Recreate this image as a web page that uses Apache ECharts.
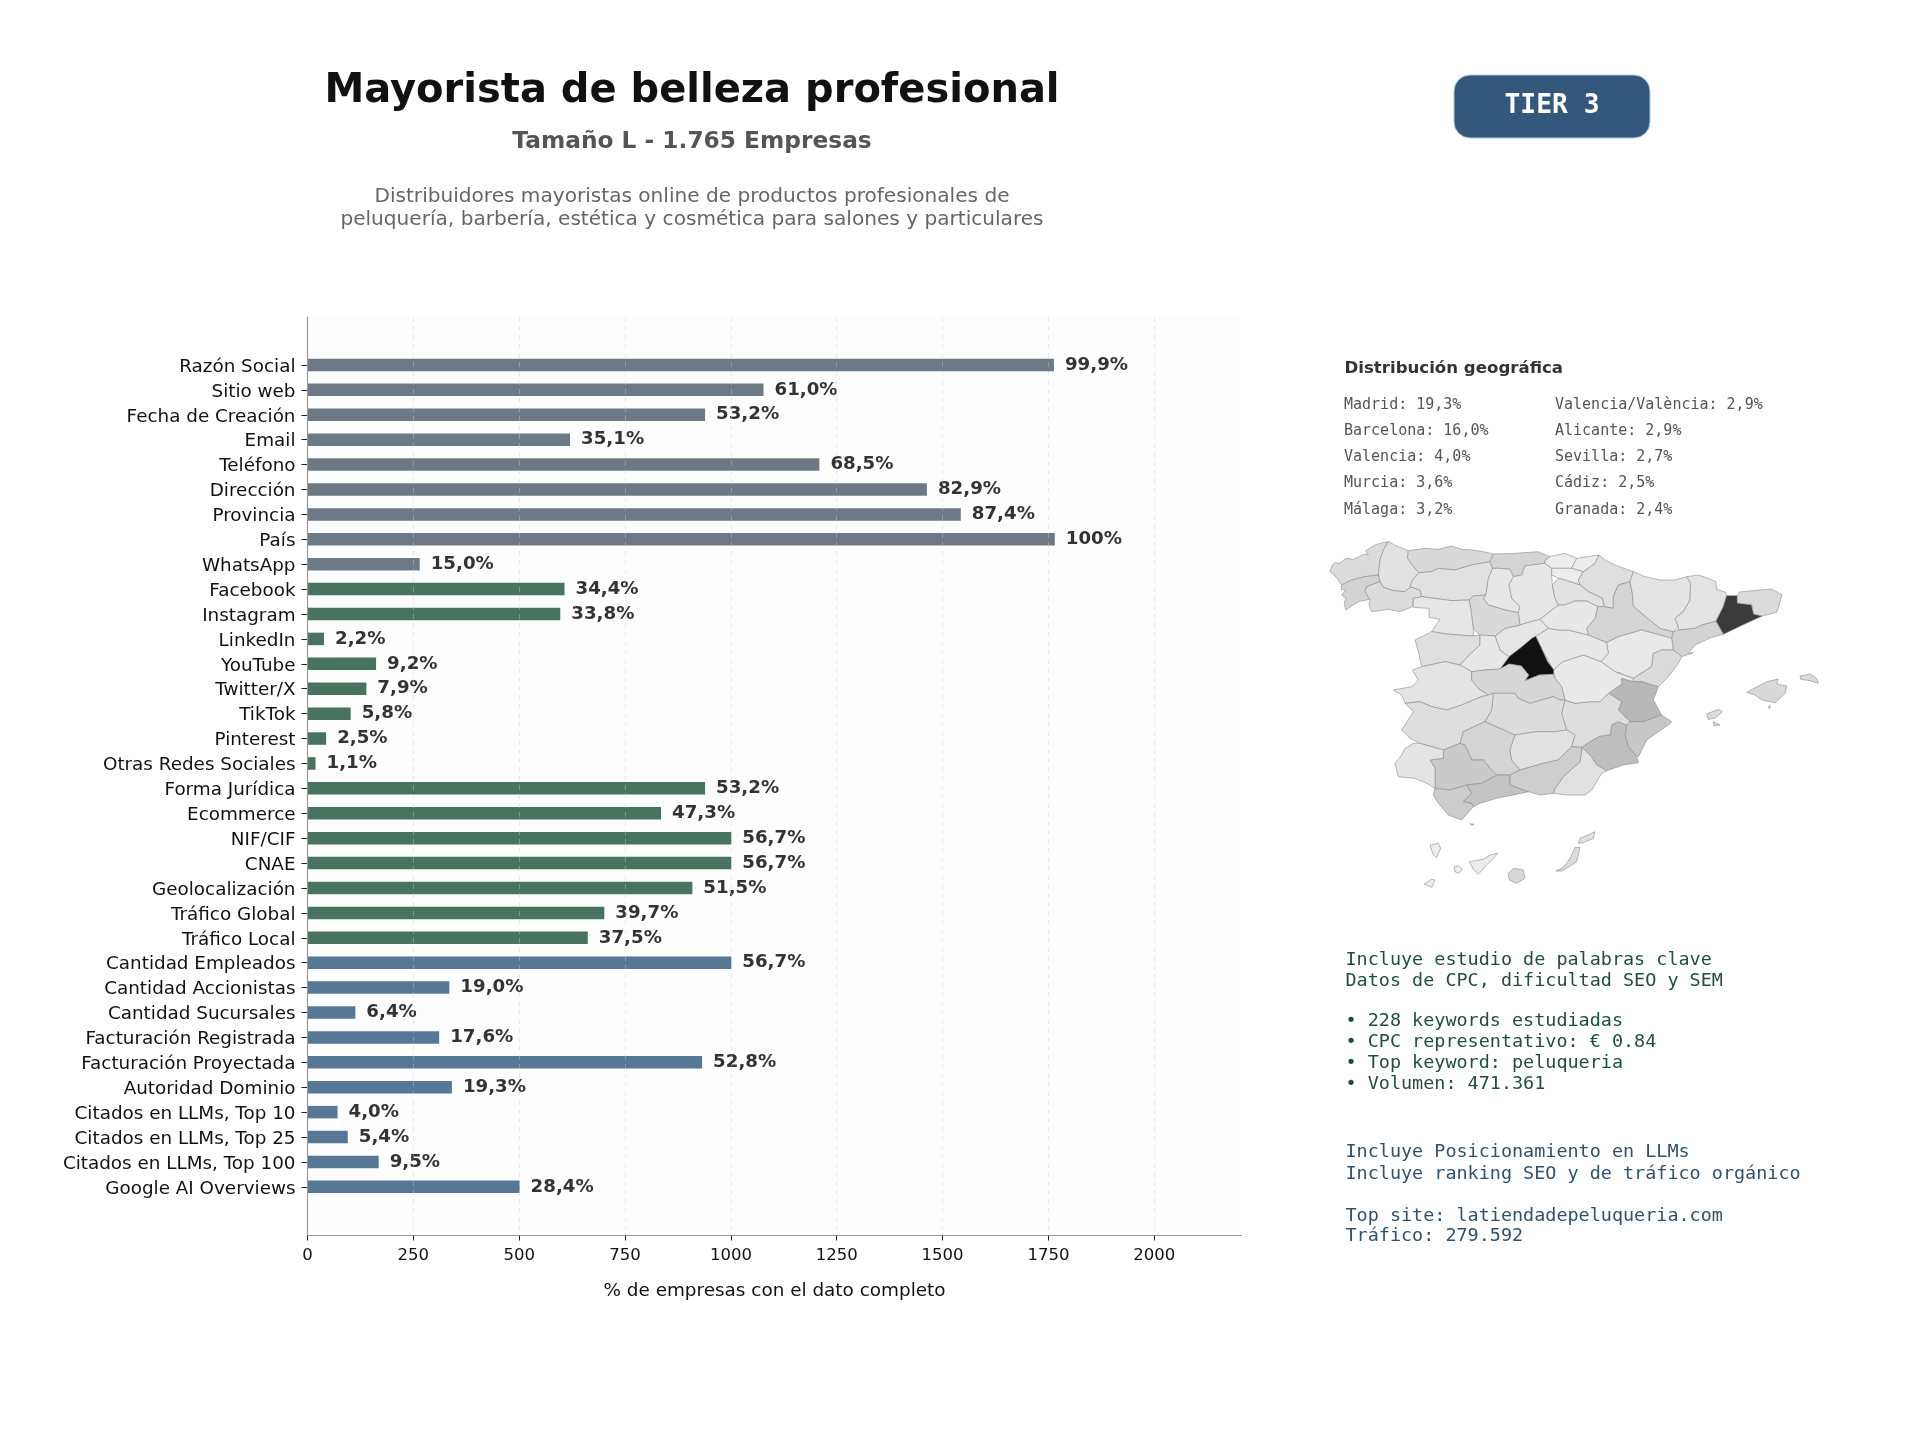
<!DOCTYPE html>
<html>
<head>
<meta charset="utf-8">
<title>Mayorista de belleza profesional</title>
<script src="https://cdn.jsdelivr.net/npm/echarts@6/dist/echarts.min.js"></script>
<style>
html, body { margin: 0; padding: 0; background: #fff; }
#chart { width: 1920px; height: 1440px; }
</style>
</head>
<body>
<div id="chart"></div>
<script>
const categories = ['Razón Social', 'Sitio web', 'Fecha de Creación', 'Email', 'Teléfono', 'Dirección', 'Provincia', 'País', 'WhatsApp',
    'Facebook', 'Instagram', 'LinkedIn', 'YouTube', 'Twitter/X', 'TikTok', 'Pinterest', 'Otras Redes Sociales',
    'Forma Jurídica', 'Ecommerce', 'NIF/CIF', 'CNAE', 'Geolocalización', 'Tráfico Global', 'Tráfico Local',
    'Cantidad Empleados', 'Cantidad Accionistas', 'Cantidad Sucursales', 'Facturación Registrada', 'Facturación Proyectada',
    'Autoridad Dominio', 'Citados en LLMs, Top 10', 'Citados en LLMs, Top 25', 'Citados en LLMs, Top 100', 'Google AI Overviews'];
const companies = [1763, 1077, 939, 620, 1209, 1463, 1543, 1765, 265,
    607, 597, 39, 162, 139, 102, 44, 19,
    939, 835, 1001, 1001, 909, 701, 662,
    1001, 335, 113, 311, 932,
    341, 71, 95, 168, 501];
const percentLabels = ['99,9%', '61,0%', '53,2%', '35,1%', '68,5%', '82,9%', '87,4%', '100%', '15,0%',
    '34,4%', '33,8%', '2,2%', '9,2%', '7,9%', '5,8%', '2,5%', '1,1%',
    '53,2%', '47,3%', '56,7%', '56,7%', '51,5%', '39,7%', '37,5%',
    '56,7%', '19,0%', '6,4%', '17,6%', '52,8%',
    '19,3%', '4,0%', '5,4%', '9,5%', '28,4%'];
const groupSizes = [9, 15, 10];
const groupColors = ['#6d7a86', '#48735f', '#567795'];
const xTicks = [0, 250, 500, 750, 1000, 1250, 1500, 1750, 2000];
const xMax = 2206;

const geoLeft = ['Madrid: 19,3%', 'Barcelona: 16,0%', 'Valencia: 4,0%', 'Murcia: 3,6%', 'Málaga: 3,2%'];
const geoRight = ['Valencia/València: 2,9%', 'Alicante: 2,9%', 'Sevilla: 2,7%', 'Cádiz: 2,5%', 'Granada: 2,4%'];
const keywordLines = ['Incluye estudio de palabras clave', 'Datos de CPC, dificultad SEO y SEM', '• 228 keywords estudiadas',
    '• CPC representativo: € 0.84', '• Top keyword: peluqueria', '• Volumen: 471.361'];
const rankingLines = ['Incluye Posicionamiento en LLMs', 'Incluye ranking SEO y de tráfico orgánico',
    'Top site: latiendadepeluqueria.com', 'Tráfico: 279.592'];

const provinceValues = {
    'Madrid': 19.3, 'Barcelona': 16.0, 'Valencia': 4.0, 'Ademuz': 4.0, 'Murcia': 3.6, 'Málaga': 3.2, 'Alicante': 2.9, 'Sevilla': 2.7, 'Cádiz': 2.5, 'Granada': 2.4,
    'A Coruña': 1.5, 'Lugo': 1.0, 'Pontevedra': 2.0, 'Ourense': 1.4, 'Asturias': 1.6, 'León': 1.1, 'Cantabria': 1.9, 'Palencia': 0.7, 'Burgos': 0.7,
    'Bizkaia': 0.3, 'Gipuzkoa': 0.3, 'Álava': 0.4, 'Navarra': 1.2, 'La Rioja': 1.0, 'Huesca': 0.9, 'Zaragoza': 1.9, 'Lleida': 0.9, 'Girona': 1.5,
    'Tarragona': 2.0, 'Teruel': 0.6, 'Castellón': 1.5, 'Soria': 0.7, 'Segovia': 0.8, 'Valladolid': 1.6, 'Zamora': 0.8, 'Salamanca': 1.2, 'Ávila': 0.7,
    'Cáceres': 0.9, 'Toledo': 1.8, 'Cuenca': 0.6, 'Guadalajara': 0.7, 'Ciudad Real': 1.4, 'Badajoz': 1.3, 'Córdoba': 1.9, 'Jaén': 1.1, 'Huelva': 0.9,
    'Albacete': 1.3, 'Almería': 1.1, 'Mallorca': 1.7, 'Menorca': 1.5, 'Ibiza': 1.5, 'Formentera': 1.5, 'Cabrera': 1.5, 'Tenerife': 0.4, 'Gran Canaria': 1.7,
    'Lanzarote': 1.2, 'Fuerteventura': 1.4, 'La Palma': 0.4, 'La Gomera': 0.3, 'El Hierro': 0.3, 'Ceuta': 1.5
};

// province outlines traced by hand, flat x,y lists (3 units = 1 screen px)
const provinceShapes = {
    'A Coruña': [18,115,22,105,30,98,45,100,62,85,85,88,118,72,130,75,122,62,150,45,165,40,190,35,175,60,165,90,160,135,120,140,80,150,50,165,40,150,28,135,15,125],
    'Lugo': [190,35,215,48,250,62,248,85,262,105,282,128,262,150,255,172,240,185,205,182,175,172,165,155,160,135,165,90,175,60],
    'Pontevedra': [50,165,80,150,120,140,160,135,165,155,125,170,120,185,135,208,100,215,62,240,58,220,62,205,50,195,62,180,48,178],
    'Ourense': [125,170,165,155,175,172,205,182,240,185,255,172,262,172,285,180,290,200,265,205,262,230,225,245,190,238,140,245,132,225,135,208,120,185],
    'Asturias': [250,62,300,55,340,58,380,48,410,58,440,60,475,65,505,72,495,95,440,105,390,120,340,115,320,125,282,128,262,105,248,85],
    'León': [282,128,320,125,340,115,390,120,440,105,495,95,503,115,490,145,483,195,445,198,432,210,380,212,290,200,285,180,262,172,255,172,262,150],
    'Cantabria': [505,72,570,70,640,65,675,80,660,92,660,100,600,108,590,135,565,140,555,118,520,115,503,115,495,95],
    'Palencia': [503,115,520,115,555,118,565,140,552,165,560,205,585,230,580,248,540,240,490,225,475,205,483,195,490,145],
    'Burgos': [565,140,590,135,600,108,660,100,680,115,680,135,682,165,690,205,700,225,645,268,600,280,585,285,580,248,585,230,560,205,552,165],
    'Bizkaia': [675,80,720,70,755,85,740,115,700,115,680,115,660,100,660,92],
    'Gipuzkoa': [755,85,822,75,810,100,775,125,740,115],
    'Álava': [680,115,700,115,740,115,775,125,760,150,765,165,720,150,700,145,680,135],
    'Navarra': [775,125,810,100,822,75,840,90,870,105,925,125,915,155,880,165,865,200,865,235,838,230,832,205,790,185,765,165,760,150],
    'La Rioja': [682,165,700,145,720,150,765,165,790,185,832,205,838,230,818,230,785,213,750,213,720,225,700,225,690,205],
    'Zaragoza': [818,230,838,230,865,235,865,200,880,165,915,155,922,190,925,228,960,258,1005,295,1045,305,1040,325,950,300,880,320,845,338,790,315,785,295,810,265],
    'Huesca': [925,125,960,140,1005,150,1050,150,1085,140,1097,160,1095,210,1075,245,1050,265,1060,290,1045,305,1005,295,960,258,925,228,922,190,915,155],
    'Lleida': [1085,140,1120,135,1150,145,1172,155,1175,178,1200,186,1205,197,1195,230,1173,274,1130,285,1110,295,1060,300,1060,290,1050,265,1075,245,1095,210,1097,160],
    'Barcelona': [1205,197,1237,197,1237,219,1280,224,1286,252,1312,258,1253,285,1195,313,1173,274,1195,230],
    'Girona': [1237,197,1243,186,1339,177,1371,194,1361,230,1355,247,1312,258,1286,252,1280,224,1237,219],
    'Tarragona': [1045,305,1060,300,1110,295,1130,285,1173,274,1195,313,1160,322,1110,345,1090,370,1105,368,1070,380,1045,360,1040,325],
    'Teruel': [845,338,880,320,950,300,1040,325,1045,360,1010,360,985,370,980,410,925,445,870,425,828,395,850,370],
    'Castellón': [925,445,980,410,985,370,1010,360,1045,360,1070,380,1060,400,1030,440,1000,470,980,465,950,455,925,455],
    'Valencia': [850,490,890,462,890,445,925,455,950,455,980,465,1000,470,985,510,1010,555,955,575,915,575,880,540,890,515],
    'Ademuz': [865,430,885,428,900,442,880,445],
    'Alicante': [915,575,955,575,1010,555,1040,575,1030,585,965,630,940,680,930,675,910,650,900,615,905,585],
    'Murcia': [770,652,795,635,825,618,855,615,860,585,880,575,905,585,900,615,910,650,935,680,940,698,895,705,845,722,815,705,800,680],
    'Almería': [770,652,800,680,815,705,845,722,830,730,800,780,780,795,725,795,685,790,690,775,715,740,765,695,770,660],
    'Albacete': [720,510,750,520,795,515,825,515,850,490,890,515,880,540,915,575,905,585,880,575,860,585,855,615,825,618,795,635,770,652,740,650,750,615,725,600,710,550],
    'Cuenca': [685,420,713,395,775,375,828,395,870,425,925,445,925,455,890,445,890,462,850,490,825,515,795,515,750,520,720,510,710,470,690,445],
    'Guadalajara': [632,319,670,295,700,300,730,300,790,315,845,338,850,370,828,395,775,375,713,395,685,420,648,352],
    'Soria': [645,268,700,225,720,225,750,213,785,213,818,230,810,265,785,295,790,315,730,300,700,300,670,295],
    'Segovia': [510,318,540,295,585,285,600,280,645,268,670,295,632,319,621,325,589,352,552,380,525,360],
    'Madrid': [632,319,648,352,668,395,686,419,686,433,643,435,600,452,611,435,589,408,552,402,525,417,552,380,589,352,621,325],
    'Valladolid': [445,198,483,195,475,205,490,225,540,240,580,248,585,285,540,295,510,318,465,315,445,298,438,240,432,210],
    'Zamora': [290,200,380,212,432,210,438,240,445,298,445,318,400,315,365,312,320,305,345,268,312,262,312,235,265,232,265,205],
    'Salamanca': [270,330,320,305,365,312,400,315,445,318,465,315,465,345,430,378,405,405,360,395,290,410,280,365],
    'Ávila': [465,315,510,318,525,360,552,380,525,417,480,420,440,425,405,405,430,378,465,345],
    'Cáceres': [262,420,290,410,360,395,405,405,440,425,440,450,460,475,490,495,470,500,445,510,410,525,365,540,320,530,285,515,240,520,230,495,205,480,260,470,280,450],
    'Toledo': [440,425,480,420,525,417,552,402,589,408,611,435,600,452,643,435,686,433,690,445,710,470,720,510,705,510,685,500,615,520,580,505,570,490,505,490,490,495,460,475,440,450],
    'Ciudad Real': [505,490,570,490,580,505,615,520,685,500,705,510,720,510,710,550,725,600,690,605,635,605,570,615,480,575,500,540],
    'Badajoz': [285,515,320,530,365,540,410,525,445,510,470,500,490,495,505,490,500,540,480,575,415,605,405,640,355,660,285,640,255,625,230,600,265,545,240,520],
    'Córdoba': [415,605,480,575,570,615,555,660,560,690,585,720,555,735,515,735,495,715,475,690,440,690,420,645,405,640],
    'Jaén': [570,615,635,605,690,605,725,600,750,615,740,650,700,690,655,700,585,720,560,690,555,660],
    'Sevilla': [315,690,355,685,355,660,405,640,420,645,440,690,475,690,495,715,515,735,470,760,425,765,375,780,330,775,330,715],
    'Huelva': [240,655,265,640,285,640,355,660,355,685,315,690,330,715,330,775,305,760,270,745,220,740,210,700,230,675],
    'Cádiz': [330,775,375,780,425,765,440,790,415,815,440,820,445,830,410,870,370,855,340,820,325,795],
    'Málaga': [425,765,470,760,515,735,555,735,555,765,610,785,565,795,515,805,465,820,445,830,440,820,415,815,440,790],
    'Granada': [555,735,585,720,655,700,700,690,740,650,770,652,770,660,765,695,715,740,690,775,685,790,645,795,610,785,555,765],
    'Mallorca': [1265,487,1325,455,1360,447,1355,462,1385,468,1380,490,1350,518,1310,510,1290,495],
    'Menorca': [1425,438,1455,432,1475,445,1480,460,1455,452,1427,448],
    'Ibiza': [1145,552,1180,538,1192,545,1170,565,1150,568],
    'Formentera': [1165,575,1175,580,1185,585,1167,587],
    'Cabrera': [1330,530,1337,528,1333,536],
    'La Palma': [315,945,340,940,347,955,335,983,325,975],
    'La Gomera': [387,1012,400,1008,413,1018,400,1030,390,1025],
    'El Hierro': [297,1062,320,1048,330,1050,320,1072,305,1065],
    'Tenerife': [433,995,475,988,495,975,518,970,510,980,485,1005,460,1033,445,1018],
    'Gran Canaria': [565,1015,595,1020,600,1045,575,1060,553,1050,550,1030],
    'Fuerteventura': [750,952,765,952,755,995,725,1015,710,1023,693,1023,715,1012,725,1000,740,975],
    'Lanzarote': [765,925,800,910,810,905,805,925,775,938,760,940],
    'Ceuta': [435,881,447,883,440,886]
};

function ringOf(flat) {
    const ring = [];
    for (let i = 0; i < flat.length; i += 2) ring.push([flat[i], -flat[i + 1]]);
    ring.push(ring[0]);
    return ring;
}

const spainGeo = {
    type: 'FeatureCollection',
    features: Object.keys(provinceShapes).map((name) => ({
        type: 'Feature',
        properties: { name },
        geometry: { type: 'Polygon', coordinates: [ringOf(provinceShapes[name])] }
    }))
};
echarts.registerMap('spain', spainGeo);

const allRings = spainGeo.features.flatMap((f) => f.geometry.coordinates[0]);
const mapX = allRings.map((p) => p[0]);
const mapY = allRings.map((p) => -p[1]);
const mapMinX = Math.min(...mapX), mapMaxX = Math.max(...mapX);
const mapMinY = Math.min(...mapY), mapMaxY = Math.max(...mapY);

let barColors = [];
groupSizes.forEach((n, g) => { for (let i = 0; i < n; i++) barColors.push(groupColors[g]); });

function label(text, x, y, font, color, align) {
    return {
        type: 'text', x, y, silent: true,
        style: { text, font, fill: color, textAlign: align || 'left', textVerticalAlign: 'middle' }
    };
}

const SANS = '"DejaVu Sans"';
const MONO = '"DejaVu Sans Mono"';
const graphics = [
    label('Mayorista de belleza profesional', 692, 92, 'bold 40px ' + SANS, '#111111', 'center'),
    label('Tamaño L - 1.765 Empresas', 692, 141.5, 'bold 23.3px ' + SANS, '#555555', 'center'),
    label('Distribuidores mayoristas online de productos profesionales de', 692, 196.5, '20.1px ' + SANS, '#666666', 'center'),
    label('peluquería, barbería, estética y cosmética para salones y particulares', 692, 219.5, '20.1px ' + SANS, '#666666', 'center'),
    {
        type: 'rect', silent: true,
        shape: { x: 1454, y: 75, width: 196, height: 63, r: 16 },
        style: { fill: '#34587c', stroke: '#b5c8da', lineWidth: 1 }
    },
    label('TIER 3', 1552, 106, 'bold 26.3px ' + MONO, '#ffffff', 'center'),
    label('Distribución geográfica', 1344.5, 368.5, 'bold 16.6px ' + SANS, '#333333')
];
const geoRowY = [405.5, 431.5, 457.5, 483.5, 510];
geoLeft.forEach((t, i) => graphics.push(label(t, 1344, geoRowY[i], '15px ' + MONO, '#555555')));
geoRight.forEach((t, i) => graphics.push(label(t, 1555, geoRowY[i], '15px ' + MONO, '#555555')));
const keywordY = [960, 981, 1021.7, 1042.7, 1063.7, 1084.7];
keywordLines.forEach((t, i) => graphics.push(label(t, 1345.5, keywordY[i], '18.45px ' + MONO, '#1f4f3f')));
const rankingY = [1152.7, 1174.3, 1216, 1236.7];
rankingLines.forEach((t, i) => graphics.push(label(t, 1345.5, rankingY[i], '18.45px ' + MONO, '#2f5270')));

const chart = echarts.init(document.getElementById('chart'), null, { width: 1920, height: 1440 });
chart.setOption({
    animation: false,
    backgroundColor: '#ffffff',
    grid: [
        { left: 307.5, top: 317, width: 934, height: 918.5, show: true, backgroundColor: '#fdfdfd', borderWidth: 0 },
        { left: 307.5, top: 352.5, width: 934, height: 846.8 }
    ],
    xAxis: [
        {
            type: 'value', gridIndex: 0, min: 0, max: xMax, z: 3,
            name: '% de empresas con el dato completo', nameLocation: 'middle', nameGap: 47,
            nameTextStyle: { fontFamily: 'DejaVu Sans', fontSize: 18.4, color: '#111111' },
            axisLine: { show: true, onZero: false, lineStyle: { color: '#999999', width: 1.2 } },
            axisTick: { show: true, length: 5, customValues: xTicks, lineStyle: { color: '#222222', width: 1 } },
            axisLabel: {
                show: true, customValues: xTicks, margin: 12, fontFamily: 'DejaVu Sans', fontSize: 16.5, color: '#111111',
                showMinLabel: true, showMaxLabel: true, formatter: (v) => String(v)
            },
            splitLine: { show: true, lineStyle: { color: 'rgba(200,205,210,0.4)', width: 1, type: [5, 4] } }
        },
        { type: 'value', gridIndex: 1, min: 0, max: xMax, show: false }
    ],
    yAxis: [
        {
            type: 'value', gridIndex: 0, min: 0, max: 1, z: 3,
            axisLine: { show: true, lineStyle: { color: '#999999', width: 1.2 } },
            axisTick: { show: false }, axisLabel: { show: false }, splitLine: { show: false }
        },
        {
            type: 'category', gridIndex: 1, data: categories, inverse: true,
            axisLine: { show: false },
            axisTick: { show: true, length: 6, alignWithLabel: true, lineStyle: { color: '#222222', width: 1 } },
            axisLabel: {
                interval: 0, margin: 12,
                formatter: (v) => '{t|' + v + '}',
                rich: { t: { fontFamily: 'DejaVu Sans', fontSize: 18.35, color: '#111111', padding: [4, 0, 0, 0] } }
            }
        }
    ],
    visualMap: {
        show: false, type: 'continuous', seriesIndex: 1, min: 0, max: 19.3,
        inRange: { color: ['#f2f2f2', '#d4d4d4', '#bababa', '#a5a5a5', '#919191', '#7d7d7d', '#696969', '#555555', '#414141', '#282828', '#111111'] }
    },
    series: [
        {
            type: 'bar', xAxisIndex: 1, yAxisIndex: 1, barWidth: 12.5, silent: true,
            data: companies.map((v, i) => ({ value: v, itemStyle: { color: barColors[i] } })),
            label: {
                show: true, position: 'right', distance: 11,
                formatter: (p) => percentLabels[p.dataIndex],
                fontFamily: 'DejaVu Sans', fontWeight: 'bold', fontSize: 18.2, color: '#333333'
            }
        },
        {
            type: 'map', map: 'spain', silent: true, aspectScale: 1, roam: false,
            left: 1325 + mapMinX / 3, top: 530 + mapMinY / 3,
            width: (mapMaxX - mapMinX) / 3, height: (mapMaxY - mapMinY) / 3,
            label: { show: false },
            itemStyle: { borderColor: '#8c8c8c', borderWidth: 0.6 },
            data: Object.keys(provinceValues).map((name) => ({ name, value: provinceValues[name] }))
        }
    ],
    graphic: { elements: graphics }
});
</script>
</body>
</html>
